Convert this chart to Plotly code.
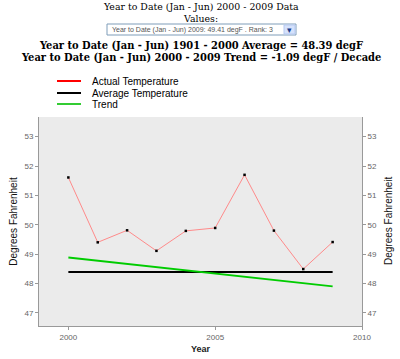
import plotly.graph_objects as go

years = [2000, 2001, 2002, 2003, 2004, 2005, 2006, 2007, 2008, 2009]
actual_temp = [51.61, 49.40, 49.81, 49.11, 49.79, 49.89, 51.70, 49.80, 48.49, 49.41]
avg_years = [2000, 2009]
avg_temp = [48.39, 48.39]
trend_years = [2000, 2009]
trend_temp = [48.88, 47.90]
x_ticks = [2000, 2005, 2010]
y_ticks = [47, 48, 49, 50, 51, 52, 53]

W, H = 400, 359
L, R, T, B = 39, 362, 117, 326

def px(x):
    return (x - L) / (R - L)

def py(y):
    return (B - y) / (B - T)

fig = go.Figure()
fig.add_trace(go.Scatter(x=years, y=actual_temp, mode="lines+markers",
                         line=dict(color="#ff8a8a", width=1),
                         marker=dict(color="black", size=2.5, symbol="square"),
                         showlegend=False, hoverinfo="x+y"))
fig.add_trace(go.Scatter(x=avg_years, y=avg_temp, mode="lines",
                         line=dict(color="black", width=2), showlegend=False))
fig.add_trace(go.Scatter(x=trend_years, y=trend_temp, mode="lines",
                         line=dict(color="#00cc00", width=2), showlegend=False))
# invisible trace to activate right axis
fig.add_trace(go.Scatter(x=[2000], y=[50], yaxis="y2", mode="markers",
                         marker=dict(opacity=0), showlegend=False, hoverinfo="skip"))

tickfont = dict(family="Liberation Sans, Arial", size=8, color="#666")
axis_common = dict(showgrid=False, zeroline=False, showline=True, linecolor="#999",
                   linewidth=1, ticks="outside", ticklen=3, tickcolor="#999",
                   tickfont=tickfont, automargin=False)

fig.update_layout(
    width=W, height=H,
    margin=dict(l=L, r=W - R, t=T, b=H - B, pad=0),
    paper_bgcolor="white", plot_bgcolor="#ebebeb",
    xaxis=dict(range=[1999, 2010], tickvals=x_ticks, **axis_common),
    yaxis=dict(range=[46.55, 53.67], tickvals=y_ticks, **axis_common),
    yaxis2=dict(range=[46.55, 53.67], tickvals=y_ticks, overlaying="y", side="right", **axis_common),
    showlegend=False,
)

ann = []
def text(x, y, s, size, family, color="black", xanchor="center", **kw):
    ann.append(dict(x=px(x), y=py(y), xref="paper", yref="paper", text=s, showarrow=False,
                    xanchor=xanchor, yanchor="middle", font=dict(size=size, family=family, color=color), **kw))

serif = "DejaVu Serif, Georgia, serif"
serif_c = "DejaVu Serif Condensed, Liberation Serif, serif"
sans = "Liberation Sans, Arial"
text(201, 7, "Year to Date (Jan - Jun) 2000 - 2009 Data", 9.4, serif)
text(200, 18, "Values:", 9.4, serif)
text(201, 45, "<b>Year to Date (Jan - Jun) 1901 - 2000 Average = 48.39 degF</b>", 11, serif_c)
text(201, 57, "<b>Year to Date (Jan - Jun) 2000 - 2009 Trend = -1.09 degF / Decade</b>", 11, serif_c)
text(110, 29.5, "Year to Date (Jan - Jun) 2009: 49.41 degF . Rank: 3", 7, sans, color="#555", xanchor="left")
text(289.5, 29.5, "▾", 9, "DejaVu Sans", color="#1c3e8c")

# axis titles
text(201, 349, "<b>Year</b>", 9, sans, color="#222")
text(12.7, 221, "Degrees Fahrenheit", 10, sans, color="#111", textangle=-90)
text(388, 221, "Degrees Fahrenheit", 10, sans, color="#111", textangle=-90)

# legend
legend_items = [("Actual Temperature", "#ff0000", 81), ("Average Temperature", "black", 93), ("Trend", "#33cc33", 104)]
shapes = []
for label, col, yy in legend_items:
    shapes.append(dict(type="line", xref="paper", yref="paper", x0=px(57), x1=px(81), y0=py(yy), y1=py(yy),
                       line=dict(color=col, width=2)))
    text(90, yy, label, 10, sans, color="black", xanchor="left")

# dropdown box
shapes.append(dict(type="rect", xref="paper", yref="paper", x0=px(107), x1=px(296), y0=py(35), y1=py(24),
                   line=dict(color="#7f9db9", width=1), fillcolor="white"))
shapes.append(dict(type="rect", xref="paper", yref="paper", x0=px(284), x1=px(295), y0=py(34), y1=py(25),
                   line=dict(color="#b5c8f2", width=1), fillcolor="#d6e2fb"))

fig.update_layout(annotations=ann, shapes=shapes)
fig.write_html("out.html", config={"displayModeBar": False},
               post_script="document.body.style.margin='0';document.body.style.padding='0';")
